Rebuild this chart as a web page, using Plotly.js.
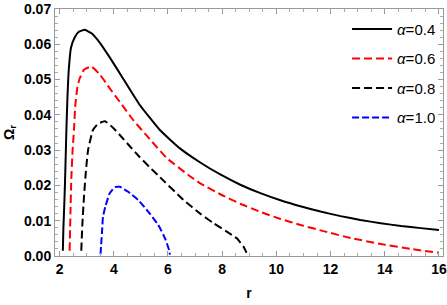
<!DOCTYPE html>
<html><head><meta charset="utf-8">
<script src="https://cdn.plot.ly/plotly-3.0.1.min.js"></script>
<style>html,body{margin:0;padding:0;background:#fff}#plot{width:447px;height:305px}</style>
</head><body><div id="plot"></div>
<script>
const r04 = [2.12,2.14,2.17,2.20,2.25,2.29,2.34,2.42,2.56,2.70,2.93,3.20,3.48,3.85,4.22,4.96,5.70,6.44,7.19,7.93,8.67,9.41,10.15,10.89,11.63,12.37,13.1,13.85,14.6,15.33,16.0];
const w04 = [0.0015,0.008,0.014,0.021,0.0357,0.045,0.053,0.059,0.0620,0.0635,0.0641,0.0630,0.0605,0.0563,0.0518,0.0428,0.0357,0.0305,0.0265,0.0231,0.0202,0.0178,0.0158,0.0141,0.0126,0.0113,0.0102,0.0093,0.0085,0.0079,0.0074];
const r06 = [2.37,2.40,2.43,2.48,2.53,2.58,2.66,2.74,2.90,3.17,3.48,3.85,4.22,4.72,5.33,5.95,6.81,7.19,7.93,8.67,9.41,10.15,10.89,11.81,12.74,13.85,14.96,16.0];
const w06 = [0.0015,0.012,0.0215,0.030,0.0357,0.0428,0.048,0.0503,0.0528,0.0537,0.0515,0.0475,0.0437,0.0385,0.0331,0.0278,0.0226,0.0206,0.0175,0.0148,0.0125,0.0105,0.0088,0.0069,0.0051,0.0034,0.0020,0.0009];
const r08 = [2.80,2.84,2.90,2.97,3.05,3.23,3.42,3.67,3.98,4.28,4.59,4.96,5.33,5.64,6.57,7.19,7.68,8.17,8.54,8.79,8.93];
const w08 = [0.0015,0.009,0.0168,0.024,0.030,0.0357,0.0375,0.0382,0.0363,0.0338,0.0311,0.0280,0.0251,0.0228,0.0159,0.0120,0.0093,0.0069,0.0050,0.0026,0.0004];
const r10 = [3.51,3.57,3.60,3.69,3.85,4.04,4.22,4.53,4.90,5.27,5.64,5.89,6.04,6.07];
const w10 = [0.0005,0.0074,0.0111,0.0140,0.0178,0.0195,0.0196,0.0182,0.0159,0.0126,0.0088,0.0050,0.0017,0.0004];
const names = ['<i>α</i>=0.4','<i>α</i>=0.6','<i>α</i>=0.8','<i>α</i>=1.0'];

const mk = (x,y,name,color,dash,g)=>({x:x,y:y,name:name,legendgroup:g,type:'scatter',mode:'lines',
  line:{color:color,width:2,dash:dash,shape:'spline',smoothing:0.4}});
const data = [
  mk(r04,w04,names[0],'#000','solid','a'),
  mk(r06,w06,names[1],'#ff0000','8px,4px','b'),
  mk(r08,w08,names[2],'#000','8px,4px','c'),
  mk(r10,w10,names[3],'#0000ff','7px,3px','d')
];
const axBase = {showgrid:false,zeroline:false,showline:true,linecolor:'#999',linewidth:1,mirror:'ticks',
  ticks:'inside',ticklen:5,tickcolor:'#999',tickwidth:1,
  tickfont:{family:'Liberation Sans, Arial',size:14,color:'#000',weight:'bold'}};
const layout = {
  width:447,height:305,margin:{l:55,r:4,t:9,b:49},
  paper_bgcolor:'#fff',plot_bgcolor:'#fff',
  xaxis:Object.assign({},axBase,{range:[1.83,16.15],tickvals:[2,4,6,8,10,12,14,16],
    minor:{dtick:0.5,tick0:0,ticks:'inside',ticklen:3,tickcolor:'#aaa'},
    title:{text:'r',font:{family:'Liberation Sans, Arial',size:14,color:'#000',weight:'bold'},standoff:12}}),
  yaxis:Object.assign({},axBase,{range:[0,0.07],tickvals:[0,0.01,0.02,0.03,0.04,0.05,0.06,0.07],tickformat:'.2f',
    minor:{dtick:0.002,tick0:0,ticks:'inside',ticklen:3,tickcolor:'#aaa'},
    title:{text:'Ω<sub>r</sub>',font:{family:'Liberation Sans, Arial',size:14,color:'#000',weight:'bold'},standoff:6}}),
  legend:{x:0.995,y:0.985,xanchor:'right',yanchor:'top',bgcolor:'rgba(0,0,0,0)',
    font:{family:'Liberation Sans, Arial',size:15,color:'#000'},tracegroupgap:7,itemwidth:40},
  showlegend:true
};
Plotly.newPlot('plot',data,layout,{displayModeBar:false,staticPlot:true});
</script></body></html>
